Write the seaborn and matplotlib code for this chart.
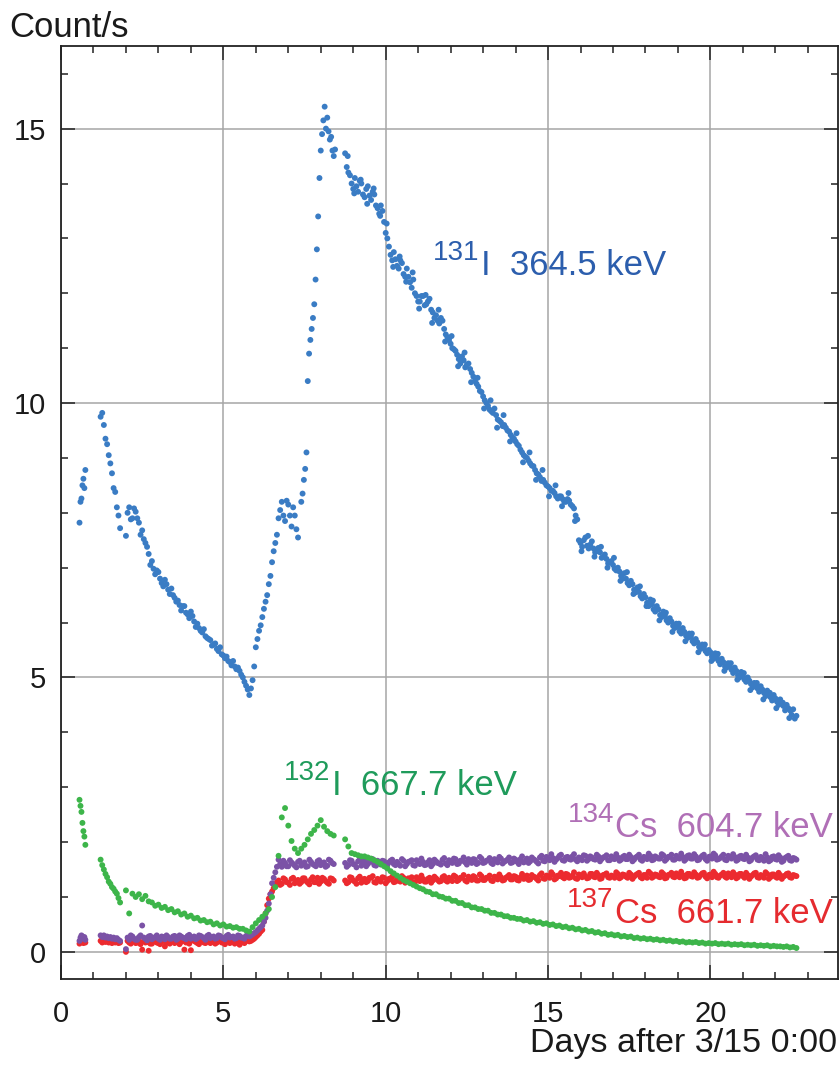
import numpy as np
import pandas as pd
import seaborn as sns
import matplotlib.pyplot as plt
from matplotlib.ticker import MultipleLocator

# ---------------------------------------------------------------------------
# Gamma-line count rates. Each segment: (first day, sampling interval [d], rates)
# Interleaved segments (offset within the same time bins) carry further
# readings taken over the same period.
# ---------------------------------------------------------------------------
i131_segments = [
    (0.57, 0.03, [7.82, 8.2, 8.26, 8.5, 8.62, 8.45, 8.78]),
    (1.22, 0.05, [9.75, 9.82, 9.6, 9.35, 9.25, 9.05, 8.9, 8.72, 8.45, 8.38,
                  8.1, 7.95, 7.72]),
    (2.0, 0.1, [7.58, 8.1, 7.9, 8.02, 7.82, 7.68, 7.45, 7.25, 7.12, 6.88,
                6.92, 6.72, 6.78, 6.6, 6.62, 6.45, 6.4, 6.22, 6.3, 6.15,
                6.2, 6.02, 5.98, 5.85, 5.88, 5.72, 5.68, 5.6, 5.52, 5.55,
                5.4, 5.38, 5.28, 5.3, 5.15, 5.12, 5.0, 4.85, 4.68, 4.95,
                5.55, 5.85, 6.1, 6.38, 6.7, 7.1, 7.45, 7.9, 8.2, 7.85,
                8.15, 7.75, 7.95, 7.55]),
    (2.05, 0.1, [8.0, 7.88, 8.08, 7.9, 7.6, 7.52, 7.38, 7.05, 6.98, 6.95,
                 6.8, 6.66, 6.7, 6.52, 6.5, 6.38, 6.32, 6.3, 6.18, 6.08,
                 6.12, 5.92, 5.9, 5.82, 5.75, 5.7, 5.58, 5.62, 5.48, 5.42,
                 5.35, 5.3, 5.22, 5.2, 5.18, 5.05, 4.92, 4.78, 4.8, 5.2,
                 5.7, 5.95, 6.25, 6.5, 6.85, 7.3, 7.6, 8.05, 7.95, 8.22,
                 7.95, 8.1, 7.7]),
    (7.40, 0.04, [8.2, 8.35, 8.6, 8.8, 9.1, 10.4, 10.9, 11.15, 11.35, 11.55,
                  11.8, 12.25, 12.8, 13.4, 14.1, 14.6, 14.9, 15.15, 15.4, 15.0,
                  15.2, 14.95, 14.8, 14.85, 14.6, 14.5, 14.62]),
    (8.75, 0.1, [14.55, 14.2, 14.0, 14.1, 13.85, 14.0, 13.75, 13.95, 13.7, 13.8,
                 13.55, 13.6, 13.3, 13.0, 12.7, 12.75, 12.5, 12.6, 12.35, 12.45,
                 12.2, 12.25, 11.95, 11.85, 11.95, 11.8, 11.9, 11.65, 11.6, 11.45,
                 11.5, 11.25, 11.15, 11.0, 10.95, 10.8, 10.85, 10.65, 10.72, 10.55,
                 10.4, 10.3, 10.2, 10.05, 9.95, 9.85, 9.9, 9.7, 9.65, 9.6,
                 9.5, 9.42, 9.35, 9.25, 9.15, 9.05, 9.0, 8.9, 8.85, 8.72,
                 8.65, 8.6, 8.5, 8.45, 8.4, 8.3, 8.3, 8.25, 8.2, 8.22,
                 8.12, 7.95]),
    (8.8, 0.1, [14.3, 14.15, 13.9, 13.95, 14.05, 13.8, 13.9, 13.78, 13.85, 13.6,
                13.45, 13.5, 13.1, 12.85, 12.6, 12.62, 12.45, 12.55, 12.3, 12.3,
                12.1, 12.0, 11.85, 11.95, 11.78, 11.85, 11.7, 11.55, 11.5, 11.55,
                11.35, 11.2, 11.08, 10.98, 10.88, 10.72, 10.78, 10.7, 10.62, 10.48,
                10.35, 10.22, 10.12, 10.0, 9.88, 9.82, 9.78, 9.68, 9.58, 9.55,
                9.48, 9.38, 9.3, 9.22, 9.1, 9.02, 8.95, 8.86, 8.78, 8.7,
                8.58, 8.55, 8.48, 8.4, 8.36, 8.26, 8.3, 8.2, 8.25, 8.15,
                8.08, 7.88]),
    (8.83, 0.2, [14.5, 13.82, 14.07, 13.63, 13.91, 13.41, 13.27, 12.48, 12.67, 12.21,
                 12.38, 11.72, 11.97, 11.46, 11.7, 11.12, 11.22, 10.67, 10.92, 10.38,
                 10.46, 9.9, 10.05, 9.55, 9.78, 9.3, 9.45, 8.92, 9.1, 8.6,
                 8.78, 8.3, 8.5, 8.12, 8.36, 7.85, 7.3, 7.58, 7.2, 7.38,
                 7.0, 7.18, 6.76, 6.92, 6.52, 6.66, 6.3, 6.4, 6.04, 6.18,
                 5.83, 5.98, 5.66, 5.8, 5.46, 5.6, 5.3, 5.43, 5.12, 5.26,
                 4.96, 5.08, 4.77, 4.9, 4.6, 4.72, 4.44, 4.54, 4.26]),
    (15.95, 0.1, [7.5, 7.38, 7.55, 7.35, 7.48, 7.28, 7.36, 7.18, 7.24, 7.08,
                  7.12, 6.98, 7.0, 6.85, 6.9, 6.72, 6.76, 6.6, 6.64, 6.48,
                  6.52, 6.36, 6.42, 6.24, 6.3, 6.14, 6.2, 6.04, 6.08, 5.94,
                  5.98, 5.84, 5.9, 5.76, 5.8, 5.66, 5.7, 5.56, 5.6, 5.48,
                  5.5, 5.38, 5.44, 5.3, 5.34, 5.2, 5.26, 5.14, 5.18, 5.04,
                  5.1, 4.96, 5.0, 4.88, 4.9, 4.8, 4.84, 4.72, 4.76, 4.64,
                  4.68, 4.56, 4.6, 4.48, 4.5, 4.4, 4.42, 4.3]),
    (16.0, 0.1, [7.45, 7.5, 7.4, 7.42, 7.35, 7.3, 7.28, 7.2, 7.16, 7.1,
                 7.05, 6.95, 6.93, 6.8, 6.8, 6.68, 6.7, 6.55, 6.56, 6.44,
                 6.46, 6.3, 6.33, 6.2, 6.24, 6.1, 6.12, 6.0, 6.02, 5.9,
                 5.92, 5.8, 5.83, 5.72, 5.74, 5.62, 5.64, 5.52, 5.55, 5.44,
                 5.46, 5.34, 5.37, 5.24, 5.28, 5.18, 5.2, 5.08, 5.12, 5.0,
                 5.03, 4.92, 4.94, 4.82, 4.86, 4.74, 4.78, 4.66, 4.7, 4.58,
                 4.62, 4.5, 4.53, 4.4, 4.44, 4.32, 4.25]),
]

i132_segments = [
    (0.57, 0.03, [2.77, 2.66, 2.55, 2.35, 2.2, 2.1, 1.95]),
    (1.22, 0.05, [1.68, 1.58, 1.5, 1.42, 1.36, 1.28, 1.24, 1.18, 1.15, 1.1,
                  1.06, 0.98, 0.9]),
    (2.0, 0.1, [1.12, 0.7, 1.06, 1.0, 1.05, 0.96, 1.02, 0.92, 0.9, 0.84,
                0.86, 0.8, 0.82, 0.76, 0.78, 0.72, 0.74, 0.68, 0.7, 0.64,
                0.66, 0.61, 0.62, 0.57, 0.58, 0.54, 0.55, 0.5, 0.52, 0.48,
                0.5, 0.46, 0.47, 0.44, 0.45, 0.42, 0.42, 0.39, 0.37, 0.45,
                0.52, 0.58, 0.64, 0.7, 0.78, 1.0, 1.18, 1.75, 2.45, 2.62,
                2.3, 2.02, 1.88, 1.8, 1.88, 1.95, 2.05, 2.15, 2.22, 2.3,
                2.4, 2.28, 2.2, 2.15, 2.12]),
    (8.75, 0.1, [2.05, 1.92, 1.8, 1.78, 1.76, 1.74, 1.74, 1.72, 1.7, 1.67,
                 1.64, 1.6, 1.56, 1.52, 1.47, 1.43, 1.39, 1.35, 1.31, 1.28,
                 1.25, 1.22, 1.19, 1.16,
                 1.14, 1.1, 1.09, 1.05, 1.05, 1.01, 1.0, 0.97, 0.97, 0.93,
                 0.93, 0.89, 0.89, 0.85, 0.85, 0.81, 0.81, 0.78, 0.78, 0.75,
                 0.75, 0.71, 0.71, 0.68, 0.68, 0.65, 0.65, 0.62, 0.62, 0.6,
                 0.6, 0.57, 0.58, 0.55, 0.56, 0.53, 0.54, 0.51, 0.52, 0.49,
                 0.5, 0.47, 0.48, 0.45, 0.46, 0.43, 0.44, 0.41, 0.42, 0.39,
                 0.4, 0.37, 0.38, 0.35, 0.36, 0.33, 0.34, 0.31, 0.32, 0.3,
                 0.31, 0.28, 0.29, 0.27, 0.28, 0.25, 0.26, 0.24, 0.25, 0.23,
                 0.24, 0.22, 0.23, 0.21, 0.22, 0.2, 0.21, 0.19, 0.2, 0.18,
                 0.19, 0.17, 0.18, 0.17, 0.18, 0.16, 0.17, 0.15, 0.16, 0.15,
                 0.16, 0.14, 0.15, 0.14, 0.15, 0.13, 0.14, 0.13, 0.14, 0.12,
                 0.13, 0.12, 0.13, 0.11, 0.12, 0.11, 0.12, 0.1, 0.11, 0.1,
                 0.1, 0.09, 0.1, 0.08, 0.09, 0.07]),
]

cs134_segments = [
    (0.57, 0.03, [0.2, 0.26, 0.3, 0.28, 0.24, 0.27, 0.22]),
    (1.22, 0.05, [0.3, 0.27, 0.3, 0.26, 0.28, 0.25, 0.27, 0.24, 0.26, 0.23,
                  0.25, 0.22, 0.2]),
    (2.0, 0.1, [0.05, 0.22, 0.28, 0.22, 0.27, 0.48, 0.24, 0.28, 0.23, 0.27,
                0.24, 0.28, 0.23, 0.27, 0.24, 0.29, 0.24, 0.28, 0.25, 0.29,
                0.24, 0.28, 0.25, 0.29, 0.25, 0.29, 0.25, 0.28, 0.25, 0.29,
                0.25, 0.29, 0.26, 0.28, 0.25, 0.29, 0.26, 0.29, 0.28, 0.32,
                0.36, 0.42, 0.48, 0.62, 0.88, 1.25, 1.45, 1.68, 1.55, 1.62,
                1.56, 1.63, 1.57, 1.64, 1.57, 1.63, 1.56, 1.64, 1.58, 1.65,
                1.58, 1.63, 1.57, 1.66, 1.6]),
    (2.05, 0.1, [0.26, 0.3, 0.24, 0.22, 0.3, 0.26, 0.21, 0.29, 0.25, 0.3,
                 0.22, 0.27, 0.3, 0.24, 0.28, 0.22, 0.3, 0.26, 0.23, 0.31,
                 0.26, 0.23, 0.3, 0.27, 0.22, 0.31, 0.27, 0.24, 0.3, 0.26,
                 0.23, 0.31, 0.27, 0.24, 0.3, 0.26, 0.24, 0.31, 0.3, 0.34,
                 0.39, 0.45, 0.55, 0.75, 1.05, 1.35, 1.55, 1.6, 1.66, 1.56,
                 1.67, 1.6, 1.54, 1.66, 1.6, 1.55, 1.68, 1.6, 1.56, 1.67,
                 1.61, 1.55, 1.68, 1.62]),
    (8.75, 0.1, [1.62, 1.58, 1.66, 1.59, 1.65, 1.57, 1.66, 1.6, 1.64, 1.58,
                 1.66, 1.59, 1.65, 1.58, 1.66, 1.6, 1.64, 1.57, 1.66, 1.6,
                 1.65, 1.58, 1.67, 1.6, 1.64, 1.59, 1.67, 1.6, 1.65, 1.61,
                 1.68, 1.61, 1.67, 1.62, 1.69, 1.61, 1.66, 1.63, 1.69, 1.62,
                 1.68, 1.62, 1.7, 1.63, 1.67, 1.62, 1.69, 1.63, 1.7, 1.64,
                 1.68, 1.62, 1.7, 1.64, 1.69, 1.63, 1.7, 1.65, 1.69, 1.64,
                 1.72, 1.66, 1.73, 1.67, 1.71, 1.68, 1.75, 1.67, 1.72, 1.69,
                 1.74, 1.68, 1.72, 1.67, 1.75, 1.69, 1.72, 1.68, 1.74, 1.69,
                 1.73, 1.67, 1.74, 1.69, 1.72, 1.68, 1.75, 1.69, 1.73, 1.68,
                 1.74, 1.68, 1.73, 1.69, 1.75, 1.68, 1.72, 1.7, 1.76, 1.69,
                 1.73, 1.68, 1.75, 1.7, 1.73, 1.69, 1.76, 1.7, 1.74, 1.68,
                 1.75, 1.69, 1.73, 1.7, 1.76, 1.69, 1.74, 1.68, 1.75, 1.7,
                 1.73, 1.68, 1.75, 1.69, 1.72, 1.67, 1.74, 1.68, 1.73, 1.66,
                 1.72, 1.67, 1.74, 1.68, 1.72, 1.66, 1.73, 1.67, 1.71, 1.68]),
    (8.8, 0.1, [1.55, 1.67, 1.6, 1.54, 1.68, 1.62, 1.56, 1.65, 1.69, 1.57,
                1.61, 1.66, 1.55, 1.63, 1.68, 1.58, 1.6, 1.69, 1.56, 1.64,
                1.67, 1.57, 1.62, 1.7, 1.58, 1.63, 1.56, 1.68, 1.62, 1.59,
                1.71, 1.58, 1.64, 1.7, 1.6, 1.66, 1.72, 1.59, 1.65, 1.69,
                1.6, 1.73, 1.62, 1.66, 1.71, 1.6, 1.67, 1.73, 1.61, 1.66,
                1.72, 1.63, 1.68, 1.6, 1.74, 1.65, 1.62, 1.72, 1.67, 1.61,
                1.75, 1.65, 1.7, 1.78, 1.64, 1.71, 1.77, 1.66, 1.73, 1.68,
                1.78, 1.65, 1.71, 1.76, 1.66, 1.74, 1.69, 1.77, 1.65, 1.72,
                1.76, 1.67, 1.7, 1.78, 1.66, 1.73, 1.69, 1.77, 1.65, 1.72,
                1.77, 1.66, 1.72, 1.79, 1.67, 1.74, 1.7, 1.78, 1.66, 1.73,
                1.77, 1.68, 1.71, 1.79, 1.66, 1.75, 1.7, 1.78, 1.67, 1.72,
                1.77, 1.66, 1.74, 1.79, 1.68, 1.71, 1.77, 1.67, 1.73, 1.78,
                1.66, 1.74, 1.7, 1.77, 1.65, 1.72, 1.76, 1.67, 1.7, 1.78,
                1.65, 1.73, 1.69, 1.76, 1.64, 1.71, 1.75, 1.66, 1.7]),
]

cs137_segments = [
    (0.57, 0.03, [0.15, 0.2, 0.18, 0.22, 0.16, 0.19, 0.17]),
    (1.22, 0.05, [0.2, 0.17, 0.21, 0.18, 0.2, 0.17, 0.19, 0.16, 0.19, 0.17,
                  0.18, 0.16, 0.17]),
    (2.0, 0.1, [0.0, 0.17, 0.2, 0.16, 0.19, 0.04, 0.17, 0.02, 0.15, 0.19,
                0.16, 0.19, 0.1, 0.17, 0.2, 0.16, 0.19, 0.18, 0.04, 0.18,
                0.03, 0.2, 0.16, 0.19, 0.17, 0.2, 0.16, 0.19, 0.17, 0.2,
                0.17, 0.2, 0.16, 0.19, 0.17, 0.13, 0.18, 0.2, 0.19, 0.22,
                0.27, 0.33, 0.4, 0.7, 0.97, 1.1, 1.22, 1.3, 1.24, 1.32,
                1.26, 1.33, 1.25, 1.31, 1.27, 1.34, 1.26, 1.32, 1.27, 1.35,
                1.28, 1.33, 1.26, 1.34, 1.3]),
    (2.05, 0.1, [0.2, 0.15, 0.21, 0.17, 0.14, 0.2, 0.18, 0.15, 0.21, 0.17,
                 0.14, 0.2, 0.17, 0.15, 0.21, 0.18, 0.14, 0.2, 0.17, 0.15,
                 0.21, 0.18, 0.14, 0.2, 0.16, 0.21, 0.18, 0.15, 0.2, 0.17,
                 0.14, 0.21, 0.18, 0.15, 0.2, 0.17, 0.16, 0.21, 0.2, 0.24,
                 0.3, 0.37, 0.55, 0.85, 1.05, 1.16, 1.27, 1.22, 1.34, 1.27,
                 1.22, 1.35, 1.28, 1.24, 1.34, 1.29, 1.23, 1.36, 1.27, 1.24,
                 1.35, 1.29, 1.24, 1.33]),
    (8.75, 0.1, [1.3, 1.27, 1.35, 1.28, 1.34, 1.26, 1.33, 1.29, 1.35, 1.27,
                 1.33, 1.28, 1.35, 1.29, 1.32, 1.27, 1.34, 1.28, 1.35, 1.29,
                 1.33, 1.27, 1.36, 1.29, 1.33, 1.28, 1.35, 1.3, 1.34, 1.28,
                 1.36, 1.3, 1.35, 1.29, 1.37, 1.31, 1.35, 1.3, 1.37, 1.31,
                 1.36, 1.3, 1.38, 1.31, 1.35, 1.3, 1.37, 1.32, 1.36, 1.31,
                 1.37, 1.32, 1.38, 1.31, 1.36, 1.33, 1.39, 1.32, 1.37, 1.33,
                 1.4, 1.34, 1.39, 1.35, 1.41, 1.34, 1.38, 1.36, 1.42, 1.35,
                 1.39, 1.34, 1.41, 1.36, 1.38, 1.35, 1.42, 1.36, 1.4, 1.34,
                 1.41, 1.36, 1.39, 1.35, 1.42, 1.36, 1.4, 1.35, 1.41, 1.37,
                 1.42, 1.36, 1.4, 1.35, 1.43, 1.37, 1.4, 1.36, 1.42, 1.35,
                 1.41, 1.37, 1.43, 1.36, 1.4, 1.35, 1.42, 1.37, 1.41, 1.36,
                 1.43, 1.37, 1.4, 1.36, 1.42, 1.35, 1.41, 1.37, 1.43, 1.36,
                 1.41, 1.36, 1.42, 1.35, 1.4, 1.37, 1.43, 1.36, 1.4, 1.35,
                 1.42, 1.36, 1.41, 1.35, 1.4, 1.37, 1.42, 1.36, 1.4, 1.38]),
    (8.8, 0.1, [1.25, 1.36, 1.3, 1.24, 1.37, 1.32, 1.27, 1.35, 1.38, 1.26,
                1.31, 1.36, 1.25, 1.33, 1.37, 1.28, 1.3, 1.38, 1.26, 1.34,
                1.36, 1.27, 1.32, 1.39, 1.28, 1.33, 1.26, 1.37, 1.31, 1.29,
                1.38, 1.28, 1.33, 1.39, 1.29, 1.35, 1.4, 1.28, 1.34, 1.38,
                1.3, 1.41, 1.31, 1.35, 1.39, 1.29, 1.36, 1.41, 1.3, 1.35,
                1.4, 1.32, 1.37, 1.3, 1.42, 1.34, 1.31, 1.4, 1.36, 1.3,
                1.43, 1.33, 1.38, 1.45, 1.32, 1.39, 1.44, 1.34, 1.41, 1.36,
                1.45, 1.33, 1.39, 1.43, 1.34, 1.42, 1.37, 1.44, 1.33, 1.4,
                1.43, 1.35, 1.38, 1.45, 1.34, 1.41, 1.37, 1.44, 1.33, 1.4,
                1.44, 1.34, 1.4, 1.46, 1.35, 1.41, 1.37, 1.45, 1.34, 1.4,
                1.44, 1.36, 1.39, 1.46, 1.34, 1.42, 1.38, 1.45, 1.35, 1.4,
                1.44, 1.34, 1.41, 1.46, 1.36, 1.39, 1.44, 1.35, 1.41, 1.45,
                1.34, 1.42, 1.38, 1.44, 1.33, 1.4, 1.44, 1.35, 1.38, 1.45,
                1.33, 1.41, 1.37, 1.44, 1.33, 1.39, 1.43, 1.35, 1.39]),
]

x_ticks = [0, 5, 10, 15, 20]
y_ticks = [0, 5, 10, 15]

dot_colors = {"Cs137": "#ec2a2f", "Cs134": "#7b52a6",
              "I132": "#3db54a", "I131": "#3a7cc4"}
text_colors = {"Cs137": "#e52b2f", "Cs134": "#b06fb6",
               "I132": "#1f9b5b", "I131": "#2c5ead"}


def segments_to_frame(segments, name):
    parts = []
    for start, step, values in segments:
        days = start + step * np.arange(len(values))
        parts.append(pd.DataFrame({"day": days, "rate": values, "line": name}))
    return pd.concat(parts, ignore_index=True)


data = pd.concat([
    segments_to_frame(cs137_segments, "Cs137"),
    segments_to_frame(cs134_segments, "Cs134"),
    segments_to_frame(i132_segments, "I132"),
    segments_to_frame(i131_segments, "I131"),
], ignore_index=True)

sns.set_theme(style="ticks")
plt.rcParams["font.family"] = ["Liberation Sans", "DejaVu Sans"]

W, H = 840, 1068
fig = plt.figure(figsize=(W / 100, H / 100), dpi=100)
left, right, top, bottom = 61, 838, 46.3, 979.3
ax = fig.add_axes([left / W, 1 - bottom / H, (right - left) / W, (bottom - top) / H])

sns.scatterplot(data=data, x="day", y="rate", hue="line", palette=dot_colors,
                s=18, linewidth=0, legend=False, ax=ax, zorder=3)

ax.set_xlim(0, 23.93)
ax.set_ylim(-0.5, 16.5)
ax.set_xticks(x_ticks)
ax.set_yticks(y_ticks)
ax.xaxis.set_minor_locator(MultipleLocator(1))
ax.yaxis.set_minor_locator(MultipleLocator(1))
ax.set_xlabel("")
ax.set_ylabel("")

ax.grid(which="major", color="#a6a6a6", linewidth=1.1, zorder=0)
ax.set_axisbelow(True)
ax.tick_params(which="both", direction="in", top=True, right=True,
               color="#222222", width=1.1, labelsize=21, labelcolor="#1a1a1a")
ax.tick_params(which="major", length=10)
ax.tick_params(which="minor", length=5)
ax.tick_params(axis="x", pad=15)
ax.tick_params(axis="y", pad=11)
for sp in ax.spines.values():
    sp.set_color("#222222")
    sp.set_linewidth(1.3)

fig.text(9 / W, 1 - 36.7 / H, "Count/s", fontsize=25, color="#1a1a1a",
         ha="left", va="baseline")
fig.text(837 / W, 1 - 1051.7 / H, "Days after 3/15 0:00", fontsize=24.5,
         color="#1a1a1a", ha="right", va="baseline")

# Line labels: mass number as a raised smaller number, then element and energy
labels = [
    ("I131", "131", "I  364.5 keV", (11.46, 12.60), (12.95, 12.33)),
    ("I132", "132", "I  667.7 keV", (6.85, 3.13), (8.35, 2.86)),
    ("Cs134", "134", "Cs  604.7 keV", (15.61, 2.36), (17.06, 2.10)),
    ("Cs137", "137", "Cs  661.7 keV", (15.58, 0.81), (17.06, 0.53)),
]
for key, mass, rest, sup_xy, main_xy in labels:
    ax.text(*sup_xy, mass, fontsize=20, color=text_colors[key],
            ha="left", va="baseline", zorder=5)
    ax.text(*main_xy, rest, fontsize=25, color=text_colors[key],
            ha="left", va="baseline", zorder=5)

fig.savefig("out.png", dpi=100)
